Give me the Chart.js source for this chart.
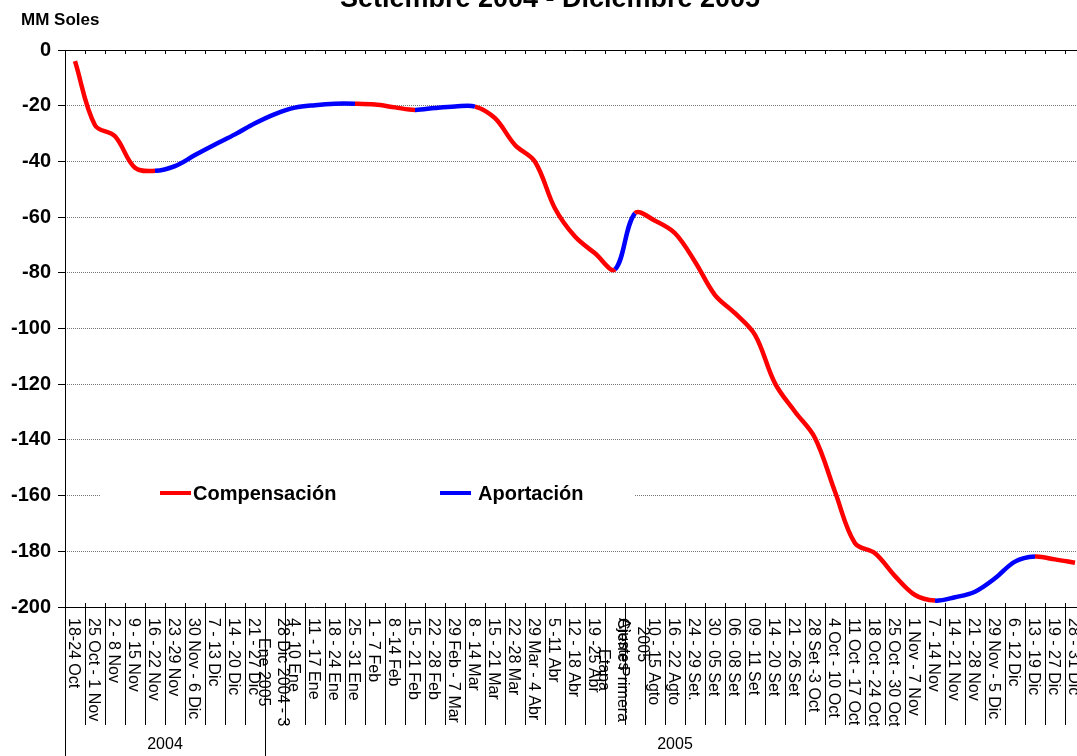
<!DOCTYPE html>
<html>
<head>
<meta charset="utf-8">
<script src="https://cdn.jsdelivr.net/npm/chart.js@4"></script>
<style>
  body { margin: 0; overflow: hidden; background: #fff; }
  #wrap { width: 1077px; height: 756px; overflow: hidden; }
</style>
</head>
<body>
<div id="wrap"><canvas id="saldoChart" width="1095" height="756"></canvas></div>
<script>
const FONT = 'Arial, "Liberation Sans", sans-serif';

const semanas = ['18-24 Oct', '25 Oct - 1 Nov', '2 - 8 Nov', '9 - 15 Nov', '16 - 22 Nov', '23 -29 Nov',
  '30 Nov - 6 Dic', '7 - 13 Dic', '14 - 20 Dic', '21 - 27 Dic', ['28 Dic 2004 - 3', 'Ene 2005'],
  '4 - 10 Ene', '11 - 17 Ene', '18 - 24 Ene', '25 - 31 Ene', '1 - 7 Feb', '8 -14 Feb', '15 - 21 Feb',
  '22 - 28 Feb', '29 Feb - 7 Mar', '8 - 14 Mar', '15 - 21 Mar', '22 -28 Mar', '29 Mar - 4 Abr',
  '5 -11 Abr', '12 - 18 Abr', '19 -25 Abr', ['Cierre Primera', 'Etapa'], ['2005', 'Ajustes'],
  '10 - 15 Agto', '16 - 22 Agto', '24 - 29 Set.', '30 - 05 Set', '06 - 08 Set', '09 - 11 Set',
  '14 - 20 Set', '21 - 26 Set', '28 Set -3 Oct', '4 Oct - 10 Oct', '11 Oct - 17 Oct', '18 Oct - 24 Oct',
  '25 Oct - 30 Oct', '1 Nov - 7 Nov', '7 - 14 Nov', '14 - 21 Nov', '21 - 28 Nov', '29 Nov - 5 Dic',
  '6 - 12 Dic', '13 - 19 Dic', '19 - 27 Dic', '28 - 31 Dic'];

const anios = ['2004', '2005'];
const semanasPorAnio = [10, 41];

// saldo acumulado, MM Soles
const saldo = [-4, -27, -31, -42.3, -43.4, -41.7, -37.7, -33.9, -30.3, -26.3, -23, -20.7, -19.8,
  -19.3, -19.3, -19.6, -20.6, -21.5, -20.8, -20.3, -20.3, -24.5, -34.1, -40.1, -56.9, -67, -73,
  -78.8, -58.6, -61.3, -65.8, -76, -88, -94.5, -102.3, -119.7, -129.9, -139.3, -158.6, -177.1,
  -180.7, -188.9, -195.7, -197.7, -196.5, -194.5, -189.7, -183.7, -181.9, -182.9, -184.1];

// tipo de cada tramo entre semanas: C = Compensación, A = Aportación
const tramos = ['C', 'C', 'C', 'C', 'A', 'A', 'A', 'A', 'A', 'A', 'A', 'A', 'A', 'A',
  'C', 'C', 'C', 'A', 'A', 'A', 'C', 'C', 'C', 'C', 'C', 'C', 'C', 'A',
  'C', 'C', 'C', 'C', 'C', 'C', 'C', 'C', 'C', 'C', 'C', 'C', 'C', 'C', 'C',
  'A', 'A', 'A', 'A', 'A', 'C', 'C'];

const colores = { C: '#ff0000', A: '#0000ff' };
const nombres = { C: 'Compensación', A: 'Aportación' };

function linea(ctx, x1, y1, x2, y2) {
  ctx.beginPath(); ctx.moveTo(x1, y1); ctx.lineTo(x2, y2); ctx.stroke();
}

const decor = {
  id: 'decor',
  afterDraw(chart) {
    const { ctx, chartArea: a, scales: { x } } = chart;
    const n = semanas.length;
    const paso = (a.right - a.left) / n;
    ctx.save();
    ctx.strokeStyle = '#000';
    ctx.lineWidth = 1;

    // ejes y marco de la tabla de etiquetas
    linea(ctx, a.left - 7, Math.round(a.top) + .5, a.right, Math.round(a.top) + .5);
    linea(ctx, a.left - 7, Math.round(a.bottom) + .5, a.right, Math.round(a.bottom) + .5);
    linea(ctx, Math.round(a.left) + .5, a.top, Math.round(a.left) + .5, chart.height);

    for (let k = 1; k <= n; k++) {
      const px = Math.round(a.left + k * paso) + .5;
      linea(ctx, px, a.top, px, a.top + 4);
      linea(ctx, px, a.bottom - 4, px, a.bottom + 118);
    }
    let acc = 0;
    semanasPorAnio.forEach(c => {
      acc += c;
      const px = Math.round(a.left + acc * paso) + .5;
      linea(ctx, px, a.bottom, px, chart.height);
    });

    // etiquetas de semanas, verticales
    ctx.fillStyle = '#000';
    ctx.font = '16px ' + FONT;
    ctx.textBaseline = 'middle';
    ctx.textAlign = 'left';
    semanas.forEach((lab, i) => {
      const lineas = Array.isArray(lab) ? lab : [lab];
      const anchos = lineas.map(t => ctx.measureText(t).width);
      const maxW = Math.max(...anchos);
      const cx = x.getPixelForValue(i) - 2;
      ctx.save();
      ctx.translate(cx, a.bottom + 11);
      ctx.rotate(Math.PI / 2);
      lineas.forEach((t, j) => {
        const ly = -(lineas.length - 1) * 9.5 + j * 19;
        ctx.fillText(t, (maxW - anchos[j]) / 2, ly);
      });
      ctx.restore();
    });

    // años
    ctx.textAlign = 'center';
    acc = 0;
    anios.forEach((an, k) => {
      const x0 = a.left + acc * paso;
      acc += semanasPorAnio[k];
      const x1 = a.left + acc * paso;
      ctx.fillText(an, (x0 + x1) / 2, 745);
    });

    // título y unidad
    ctx.font = 'bold 27px ' + FONT;
    ctx.textBaseline = 'alphabetic';
    ctx.fillText('Setiembre 2004 - Diciembre 2005', 550, 7);
    ctx.font = 'bold 17px ' + FONT;
    ctx.textAlign = 'left';
    ctx.fillText('MM Soles', 21, 25);

    // leyenda dentro del gráfico
    ctx.fillStyle = '#fff';
    ctx.fillRect(100, 479, 535, 28);
    ctx.font = 'bold 20px ' + FONT;
    ctx.textBaseline = 'middle';
    [['C', 160, 193], ['A', 440, 478]].forEach(([k, lx, tx]) => {
      ctx.strokeStyle = colores[k];
      ctx.lineWidth = 4;
      linea(ctx, lx, 493, lx + 31, 493);
      ctx.fillStyle = '#000';
      ctx.fillText(nombres[k], tx, 494);
    });
    ctx.restore();
  }
};

const ctx = document.getElementById('saldoChart').getContext('2d');
new Chart(ctx, {
  type: 'line',
  data: {
    labels: semanas,
    datasets: [{
      label: nombres.C,
      data: saldo,
      borderWidth: 4.5,
      borderColor: colores.C,
      pointRadius: 0,
      tension: 0.35,
      segment: { borderColor: c => colores[tramos[c.p0DataIndex]] }
    }]
  },
  options: {
    responsive: false,
    animation: false,
    layout: { padding: { top: 50, right: 10, left: 0, bottom: 0 } },
    plugins: { legend: { display: false }, tooltip: { enabled: false } },
    scales: {
      x: {
        offset: true,
        grid: { display: false },
        border: { display: false },
        ticks: { display: false },
        afterFit: s => { s.height = 149; }
      },
      y: {
        min: -200,
        max: 0,
        border: { display: false, dash: [1, 1] },
        grid: { color: '#777', tickColor: '#000', tickLength: 7, lineWidth: 1 },
        ticks: {
          stepSize: 20,
          padding: 7,
          color: '#000',
          font: { family: FONT, size: 20, weight: 'bold' }
        },
        afterFit: s => { s.width = 65; }
      }
    }
  },
  plugins: [decor]
});
</script>
</body>
</html>
